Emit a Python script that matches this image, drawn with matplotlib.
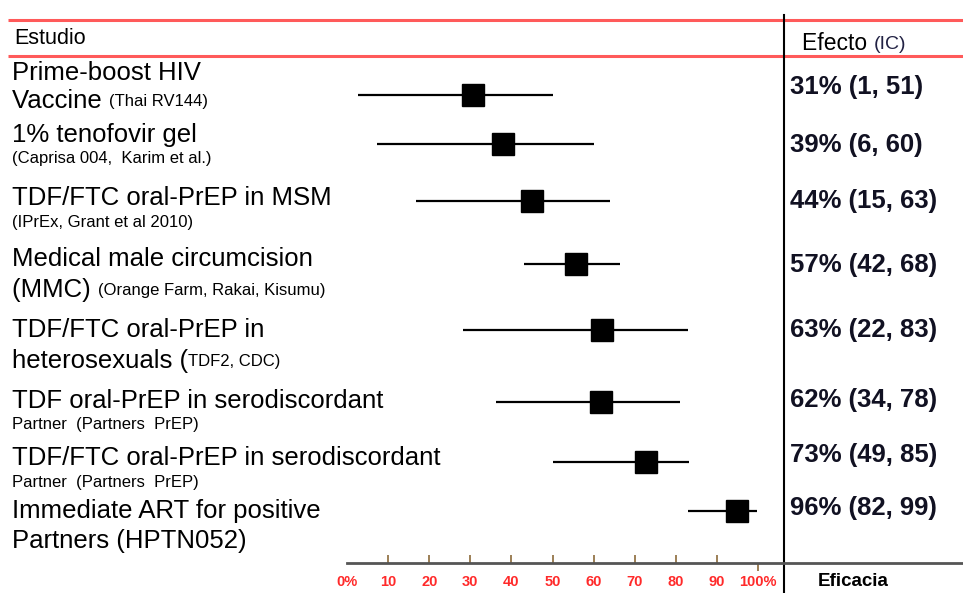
import matplotlib

matplotlib.use("Agg")
import matplotlib.pyplot as plt

# Datos
estudio_linea1 = [
    "Prime-boost HIV",
    "1% tenofovir gel",
    "TDF/FTC oral-PrEP in MSM",
    "Medical male circumcision",
    "TDF/FTC oral-PrEP in",
    "TDF oral-PrEP in serodiscordant",
    "TDF/FTC oral-PrEP in serodiscordant",
    "Immediate ART for positive",
]
estudio_linea2 = ["Vaccine ", "", "", "(MMC) ", "heterosexuals (", "", "", "Partners (HPTN052)"]
estudio_nota = [
    "(Thai RV144)",
    "(Caprisa 004,  Karim et al.)",
    "(IPrEx, Grant et al 2010)",
    "(Orange Farm, Rakai, Kisumu)",
    "TDF2, CDC)",
    "Partner  (Partners  PrEP)",
    "Partner  (Partners  PrEP)",
    "",
]

# efecto reportado (texto de la columna derecha)
efecto = [31, 39, 44, 57, 63, 62, 73, 96]
ic_bajo = [1, 6, 15, 42, 22, 34, 49, 82]
ic_alto = [51, 60, 63, 68, 83, 78, 85, 99]

# posicion dibujada de cada marcador y su intervalo
punto = [30.7, 38, 45, 55.7, 62, 61.8, 72.7, 95]
linea_bajo = [2.7, 7.3, 16.8, 43, 28.2, 36.3, 50, 83]
linea_alto = [50.1, 60, 64, 66.4, 83, 81, 83.2, 99.8]

ticks = [0, 10, 20, 30, 40, 50, 60, 70, 80, 90, 100]
tick_labels = ["0%", "10", "20", "30", "40", "50", "60", "70", "80", "90", "100%"]

# layout (pixeles de la figura)
W, H = 963, 593
fila_y = [95, 144, 201, 264, 330, 402, 462, 511]
linea1_y = [73, 135, 198, 259, 330, 401, 458, 511]
linea2_y = [101, 158, 222, 290, 361, 425, 482, 541]
efecto_y = [87, 145, 201, 265, 330, 400, 455, 508]

plt.rcParams["font.family"] = ["Liberation Sans", "DejaVu Sans"]

fig = plt.figure(figsize=(W / 100, H / 100), dpi=100)

# capa de fondo para textos y lineas de la tabla
bg = fig.add_axes([0, 0, 1, 1])
bg.set_xlim(0, W)
bg.set_ylim(H, 0)
bg.axis("off")

bg.plot([8, W], [20, 20], color="#ff5a5a", lw=2.2, solid_capstyle="butt")
bg.plot([8, W], [56, 56], color="#ff5a5a", lw=2.2, solid_capstyle="butt")
bg.plot([784, 784], [15, H], color="black", lw=1.5)

bg.text(14, 38, "Estudio", fontsize=15.5, va="center", ha="left")
t = bg.text(802, 44, "Efecto ", fontsize=16.5, va="center", ha="left")
bg.annotate("(IC)", xy=(1, 0.12), xycoords=t, fontsize=14, va="bottom", ha="left",
            color="#222244")
bg.text(818, 582, "Eficacia", fontsize=13.5, fontweight="bold", va="center", ha="left")

for i in range(len(efecto)):
    bg.text(12, linea1_y[i], estudio_linea1[i], fontsize=18.5, va="center", ha="left")
    if estudio_linea2[i]:
        t2 = bg.text(12, linea2_y[i], estudio_linea2[i], fontsize=18.5, va="center", ha="left")
        if estudio_nota[i]:
            bg.annotate(estudio_nota[i], xy=(1, 0.15), xycoords=t2, fontsize=12,
                        va="bottom", ha="left")
    elif estudio_nota[i]:
        bg.text(12, linea2_y[i], estudio_nota[i], fontsize=12, va="center", ha="left")

    bg.text(790, efecto_y[i], f"{efecto[i]}% ({ic_bajo[i]}, {ic_alto[i]})",
            fontsize=18.5, fontweight="bold", va="center", ha="left", color="#111122")

# forest plot
x0, x1 = 347, W
escala = 4.11  # px por punto porcentual
ax = fig.add_axes([x0 / W, (H - 563) / H, (x1 - x0) / W, (563 - 57) / H])
ax.set_xlim(0, (x1 - x0) / escala)
ax.set_ylim(563, 57)
ax.patch.set_alpha(0)

ax.hlines(fila_y, linea_bajo, linea_alto, color="black", lw=1.6)
ax.plot(punto, fila_y, "s", color="black", markersize=15.5)

for s in ["top", "right", "left"]:
    ax.spines[s].set_visible(False)
ax.spines["bottom"].set_color("#555555")
ax.spines["bottom"].set_linewidth(2)
ax.set_yticks([])
ax.xaxis.remove_overlapping_locs = False
ax.set_xticks(ticks)
ax.set_xticklabels(tick_labels)
ax.tick_params(axis="x", length=0, pad=9, labelsize=10.5, labelcolor="#ff2a2a")
for lab in ax.get_xticklabels():
    lab.set_fontweight("bold")
ax.set_xticks(ticks[1:-1], minor=True)
ax.tick_params(axis="x", which="minor", direction="in", length=6, width=1.2,
               color="#8b6a3a")

sec = ax.secondary_xaxis("bottom")
sec.set_xticks([100])
sec.set_xticklabels([""])
sec.tick_params(direction="out", length=6, width=1.2, color="#8b6a3a")
sec.spines["bottom"].set_visible(False)

fig.savefig("out.png", dpi=100)
